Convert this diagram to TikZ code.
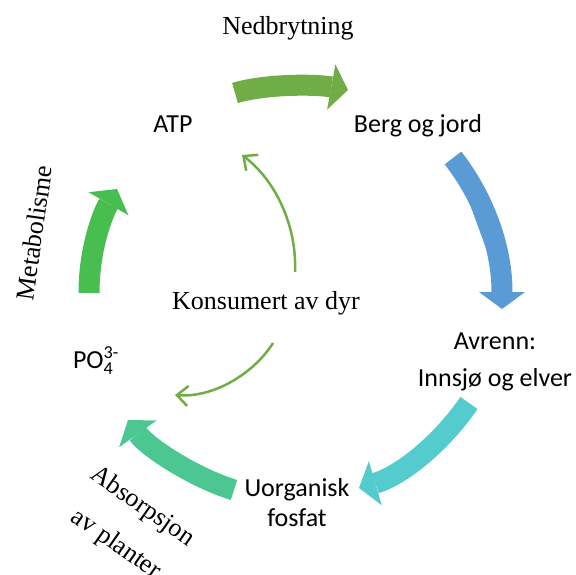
\documentclass[tikz,border=0pt]{standalone}
\usepackage{fontspec}
\usepackage{amsmath}
\setmainfont{Liberation Serif}
\newfontfamily\calibri{Carlito}
\usetikzlibrary{arrows.meta}

\definecolor{nedgreen}{RGB}{112,173,71}
\definecolor{bergblue}{RGB}{91,155,213}
\definecolor{avrcyan}{RGB}{84,204,206}
\definecolor{absteal}{RGB}{77,199,145}
\definecolor{metgreen}{RGB}{72,189,80}

\begin{document}
\begin{tikzpicture}[
    x=1pt,y=1pt,
    serif/.style={
      font=\fontsize{26}{30}\selectfont,
      inner sep=0pt,
      align=center
    },
    sans/.style={
      font=\calibri\fontsize{26}{30}\selectfont,
      inner sep=0pt,
      align=center
    },
    flow/.style={
      line width=21pt,
      -{Triangle[width=46pt,length=17pt,line width=0pt]}
    },
    feed/.style={
      draw=nedgreen,
      line width=2.5pt,
      -{Straight Barb[length=11pt,width=20pt]}
    }
    ]
    \useasboundingbox (0,0) rectangle (576,-575);

    % stations of the cycle
    \node[sans,anchor=base] at (173,-133) (atp) {ATP};
    \node[sans,anchor=base] at (418,-133) (berg) {Berg og jord};
    \node[sans] at (495,-362) (avrenn) {Avrenn:\\[7pt]Innsj\o{} og elver};
    \node[sans] at (297,-503) (fosfat) {Uorganisk\\fosfat};
    \node[sans,anchor=base] at (96,-368) (po) {PO$_\text{4}^\text{3-}$};
    \node[serif,anchor=base] at (266,-309) (dyr) {Konsumert av dyr};

    % process labels
    \node[serif,anchor=base] at (288,-35) (ned) {Nedbrytning};
    \node[serif,anchor=base,rotate=82] at (43,-234) (met) {Metabolisme};
    \node[serif,rotate=-35] at (129,-526) (abs) {Absorpsjon\\[16pt]av planter};

    % arrow ends
    \coordinate (ned-s) at (235,-93);
    \coordinate (ned-e) at (348,-90);
    \coordinate (berg-s) at (453,-158);
    \coordinate (berg-e) at (502,-309);
    \coordinate (avr-s) at (469,-403);
    \coordinate (avr-e) at (359,-488);
    \coordinate (abs-s) at (234,-490);
    \coordinate (abs-e) at (128,-420);
    \coordinate (met-s) at (89,-293);
    \coordinate (met-e) at (117,-189);
    \coordinate (dyr-up) at (295,-272);
    \coordinate (atp-in) at (242,-155);
    \coordinate (dyr-down) at (273,-343);
    \coordinate (po-in) at (175,-395);

    \draw[flow,draw=nedgreen,fill=nedgreen] (ned-s) .. controls (265,-84) and (315,-84) .. (ned-e);
    \draw[flow,draw=bergblue,fill=bergblue] (berg-s) .. controls (482,-195) and (502,-245) .. (berg-e);
    \draw[flow,draw=avrcyan,fill=avrcyan] (avr-s) .. controls (440,-445) and (400,-476) .. (avr-e);
    \draw[flow,draw=absteal,fill=absteal] (abs-s) .. controls (195,-478) and (148,-448) .. (abs-e);
    \draw[flow,draw=metgreen,fill=metgreen] (met-s) .. controls (89,-250) and (102,-215) .. (met-e);

    % consumers
    \draw[feed] (dyr-up) .. controls (297,-225) and (275,-180) .. (atp-in);
    \draw[feed] (dyr-down) .. controls (255,-372) and (215,-398) .. (po-in);
\end{tikzpicture}
\end{document}
